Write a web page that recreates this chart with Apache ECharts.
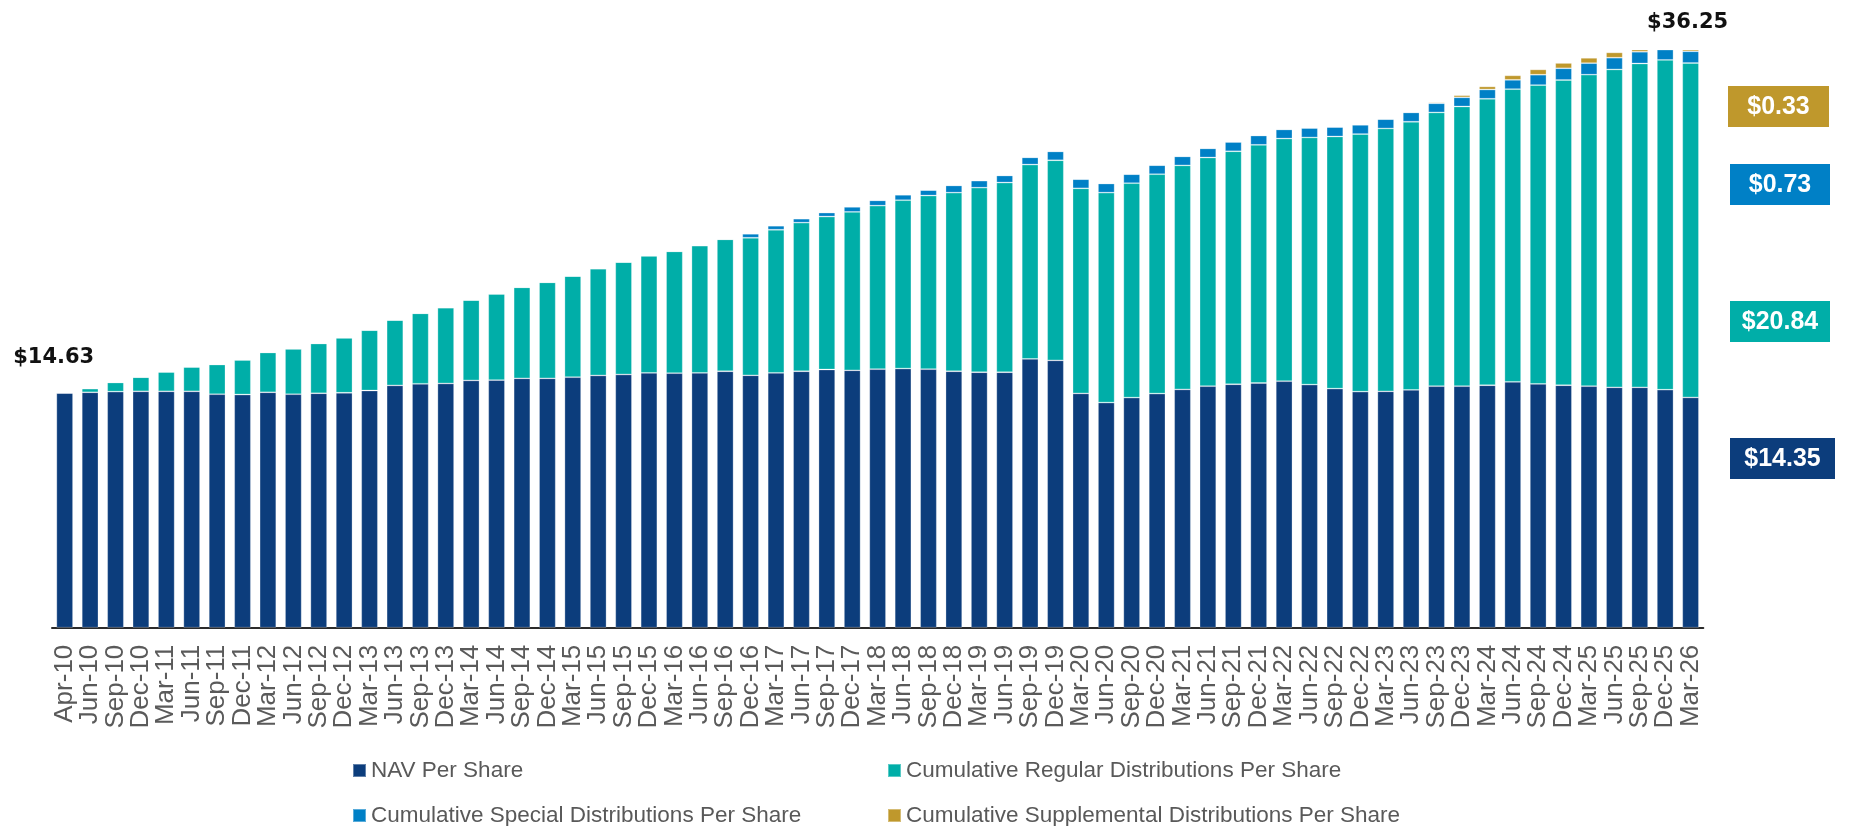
<!DOCTYPE html>
<html>
<head>
<meta charset="utf-8">
<script src="https://cdn.jsdelivr.net/npm/echarts@6/dist/echarts.min.js"></script>
<style>
html,body{margin:0;padding:0;background:#fff;}
#chart{width:1862px;height:826px;}
</style>
</head>
<body>
<div id="chart"></div>
<script>
const categories = ['Apr-10','Jun-10','Sep-10','Dec-10',
 'Mar-11','Jun-11','Sep-11','Dec-11','Mar-12','Jun-12','Sep-12','Dec-12',
 'Mar-13','Jun-13','Sep-13','Dec-13','Mar-14','Jun-14','Sep-14','Dec-14',
 'Mar-15','Jun-15','Sep-15','Dec-15','Mar-16','Jun-16','Sep-16','Dec-16',
 'Mar-17','Jun-17','Sep-17','Dec-17','Mar-18','Jun-18','Sep-18','Dec-18',
 'Mar-19','Jun-19','Sep-19','Dec-19','Mar-20','Jun-20','Sep-20','Dec-20',
 'Mar-21','Jun-21','Sep-21','Dec-21','Mar-22','Jun-22','Sep-22','Dec-22',
 'Mar-23','Jun-23','Sep-23','Dec-23','Mar-24','Jun-24','Sep-24','Dec-24',
 'Mar-25','Jun-25','Sep-25','Dec-25','Mar-26'];

const navPerShare = [14.63,14.67,14.71,14.73,14.73,14.73,14.55,14.53,14.67,14.55,14.61,14.64,
 14.78,15.10,15.20,15.22,15.41,15.43,15.54,15.54,15.61,15.72,15.78,15.88,
 15.86,15.88,15.98,15.73,15.88,15.98,16.09,16.04,16.11,16.15,16.11,15.98,
 15.92,15.92,16.75,16.66,14.60,14.03,14.34,14.59,14.85,15.05,15.17,15.25,
 15.36,15.15,14.90,14.71,14.73,14.82,15.05,15.05,15.11,15.32,15.19,15.11,
 15.05,14.98,14.98,14.83,14.35];

const regularDist = [0,0.23,0.57,0.88,1.21,1.52,1.85,2.16,2.48,2.83,3.10,3.43,
 3.76,4.07,4.39,4.72,5.01,5.37,5.67,5.98,6.30,6.65,7.00,7.30,
 7.59,7.93,8.22,8.57,8.92,9.26,9.53,9.87,10.19,10.49,10.82,11.13,
 11.50,11.82,12.11,12.47,12.78,13.08,13.36,13.67,13.96,14.25,14.52,14.84,
 15.12,15.40,15.71,16.05,16.38,16.71,17.06,17.43,17.85,18.24,18.62,19.02,
 19.41,19.81,20.18,20.55,20.84];

const specialDist = [0,0,0,0,0,0,0,0,0,0,0,0,
 0,0,0,0,0,0,0,0,0,0,0,0,
 0,0,0,0.25,0.25,0.25,0.25,0.32,0.33,0.34,0.34,0.45,
 0.44,0.44,0.45,0.55,0.57,0.57,0.56,0.56,0.56,0.57,0.58,0.58,
 0.57,0.59,0.59,0.58,0.58,0.58,0.57,0.57,0.58,0.58,0.65,0.73,
 0.72,0.73,0.73,0.73,0.73];

const supplementalDist = [0,0,0,0,0,0,0,0,0,0,0,0,
 0,0,0,0,0,0,0,0,0,0,0,0,
 0,0,0,0,0,0,0,0,0,0,0,0,
 0,0,0,0,0,0,0,0,0,0,0,0,
 0,0,0,0,0,0,0.06,0.13,0.19,0.28,0.33,0.33,
 0.33,0.33,0.33,0.33,0.33];

const seriesNames = ['NAV Per Share','Cumulative Regular Distributions Per Share',
 'Cumulative Special Distributions Per Share','Cumulative Supplemental Distributions Per Share'];
const seriesData = [navPerShare, regularDist, specialDist, supplementalDist];
const colors = ['#0c3d7c','#00aea8','#0080c6','#bf982c'];

const chart = echarts.init(document.getElementById('chart'), null, {renderer:'canvas'});

const legendText = {color:'#595959', fontSize:22.5, fontFamily:'Liberation Sans, Arial, sans-serif'};
const legendPos = [[352,759],[887,759],[352,804],[887,804]];

const option = {
  animation:false,
  color: colors,
  grid:{left:52, right:158.7, top:50, bottom:198.3, containLabel:false},
  legend: seriesNames.map((nm,k)=>({
    data:[nm], left:legendPos[k][0], top:legendPos[k][1], padding:0,
    itemWidth:13, itemHeight:13, icon:'rect', textStyle:legendText, selectedMode:false
  })),
  xAxis:{
    type:'category', data:categories, boundaryGap:true,
    axisLine:{show:true, lineStyle:{color:'#2b2b2b', width:2}},
    axisTick:{show:false},
    axisLabel:{interval:0, rotate:90, margin:17, color:'#5a5a5a', fontSize:26,
      fontFamily:'Liberation Sans, Arial, sans-serif'}
  },
  yAxis:{type:'value', min:0, max:36, show:false, splitLine:{show:false}},
  series: seriesNames.map((name,k)=>({
    name:name, type:'bar', stack:'total', data:seriesData[k], barWidth:16.6,
    clip:true,
    itemStyle:{color:colors[k], borderColor:'rgba(255,255,255,0.35)', borderWidth:0.8}
  }))
};
chart.setOption(option);

const n = categories.length;
const total = i => seriesData.reduce((s,arr)=>s+arr[i],0);
const fmt = v => '$' + v.toFixed(2);
const firstPt = chart.convertToPixel({gridIndex:0},[categories[0], total(0)]);
const lastPt = chart.convertToPixel({gridIndex:0},[categories[n-1], total(n-1)]);
const topFont = {fontSize:21, fontWeight:'bold', fontFamily:'DejaVu Sans, sans-serif', fill:'#111'};

const badgeDefs = [
  {k:3, x:1728, y:86, w:101},
  {k:2, x:1730, y:164, w:100},
  {k:1, x:1730, y:301, w:100},
  {k:0, x:1730, y:438, w:105}
];
const graphics = [
  {type:'text', x:firstPt[0]-11, y:firstPt[1]-35,
   style:Object.assign({text:fmt(total(0)), textAlign:'center', textVerticalAlign:'middle'}, topFont)},
  {type:'text', x:lastPt[0]-3, y:lastPt[1]-23,
   style:Object.assign({text:fmt(total(n-1)), textAlign:'center', textVerticalAlign:'middle'}, topFont)}
];
badgeDefs.forEach(b=>{
  graphics.push({type:'rect', shape:{x:b.x, y:b.y, width:b.w, height:41}, style:{fill:colors[b.k]}});
  graphics.push({type:'text', x:b.x+b.w/2, y:b.y+21, scaleX:0.96,
    style:{x:0, y:0, text:fmt(seriesData[b.k][n-1]), fill:'#fff', fontSize:26, fontWeight:'bold',
      fontFamily:'Liberation Sans, Arial, sans-serif', textAlign:'center', textVerticalAlign:'middle'}});
});
chart.setOption({graphic:graphics});
</script>
</body>
</html>
